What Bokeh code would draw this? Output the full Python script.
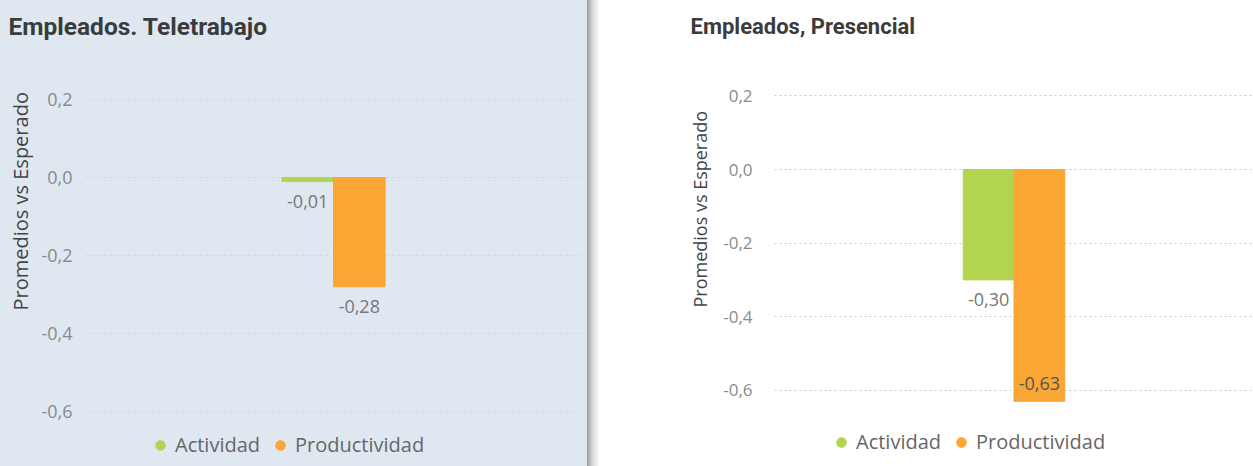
from bokeh.plotting import figure
from bokeh.models import (FactorRange, Range1d, FixedTicker, CustomJSTickFormatter,
                          Title, ColumnDataSource, Spacer)
from bokeh.transform import dodge
from bokeh.layouts import row
from bokeh.core.properties import value
from bokeh.embed import file_html
from bokeh.resources import INLINE

# ---------------- data ----------------
series = ["Actividad", "Productividad"]
grupo = ["Empleados"]
teletrabajo_values = [-0.01, -0.28]
presencial_values = [-0.30, -0.63]
y_ticks = [0.2, 0.0, -0.2, -0.4, -0.6]
titles = ["Empleados. Teletrabajo", "Empleados, Presencial"]
axis_title = "Promedios vs Esperado"
colors = ["#B3D44E", "#F9A635"]

H = 466


def fmt(v):
    return f"{v:.2f}".replace(".", ",")


def panel(values, title, cfg):
    zero_px, ppu, top_px = cfg["zero_px"], cfg["ppu"], cfg["top_px"]
    y_top = (zero_px - top_px) / ppu
    y_bot = -(H - zero_px) / ppu
    p = figure(width=cfg["width"], height=H,
               x_range=FactorRange(factors=grupo, range_padding=0),
               y_range=Range1d(y_bot, y_top),
               x_axis_location=None, toolbar_location=None, output_backend="svg",
               min_border_left=cfg["left"], min_border_right=cfg["right"],
               min_border_top=top_px, min_border_bottom=0,
               background_fill_color=cfg["bg"], border_fill_color=cfg["bg"],
               outline_line_color=None)
    p.styles = {"background-color": cfg["bg"]}
    ax = p.yaxis[0]
    ax.ticker = FixedTicker(ticks=y_ticks)
    ax.formatter = CustomJSTickFormatter(code="return tick.toFixed(1).replace('.', ',');")
    ax.axis_line_color = None
    ax.major_tick_line_color = None
    ax.minor_tick_line_color = None
    ax.major_tick_in = 0
    ax.major_tick_out = 0
    ax.axis_label_standoff = 0
    ax.major_label_standoff = cfg["standoff"]
    ax.major_label_text_font = "Open Sans"
    ax.major_label_text_font_size = cfg["tick_fs"]
    ax.major_label_text_color = "#8a8a8a"
    p.xgrid.visible = False
    p.ygrid.grid_line_color = cfg["grid_color"]
    p.ygrid.grid_line_dash = cfg["grid_dash"]
    p.ygrid.grid_line_width = 1

    low_tick = min(y_ticks)
    for i, s in enumerate(series):
        v = values[i]
        inside = v < low_tick
        src = ColumnDataSource(dict(g=grupo, v=[v], lab=[fmt(v)],
                                    yo=[-18 if inside else 20],
                                    tc=["#555555" if inside else "#777777"]))
        xd = dodge("g", cfg["offsets"][i], range=p.x_range)
        p.vbar(x=xd, top="v", bottom=0, width=cfg["bw"], color=colors[i], source=src)
        p.text(x=xd, y="v", text="lab", y_offset="yo", text_align="center",
               text_baseline="middle", text_font=value("Open Sans"),
               text_font_size="18px", text_color="tc", source=src)
        p.scatter(x=xd, y="v", size=10, color=colors[i], legend_label=s,
                  source=src, visible=False)

    lg = p.legend[0]
    lg.location = cfg["legend_xy"]
    lg.orientation = "horizontal"
    lg.background_fill_alpha = 0
    lg.border_line_color = None
    lg.padding = 0
    lg.margin = 0
    lg.spacing = 8
    lg.glyph_width = 24
    lg.glyph_height = 24
    lg.label_standoff = 3
    lg.label_text_font = "Open Sans"
    lg.label_text_font_size = "20px"
    lg.label_text_color = "#666666"

    p.add_layout(Title(text=title, align="left", offset=cfg["title_offset"],
                       vertical_align="middle", standoff=cfg["title_standoff"],
                       text_font="Roboto", text_font_style="bold",
                       text_font_size=cfg["title_fs"], text_color="#3b3b3b"), "above")
    p.add_layout(Title(text=axis_title, align="left", offset=cfg["axis_offset"],
                       vertical_align="middle", standoff=cfg["axis_standoff"],
                       text_font="Open Sans", text_font_style="normal",
                       text_font_size=cfg["axis_fs"], text_color="#444444"), "left")
    return p


left_cfg = dict(width=587, left=85, right=6, zero_px=177, ppu=390, top_px=50,
                bg="#dfe8f1", grid_color="#d0d9e3", grid_dash="3 3",
                offsets=[-0.052, 0.052], bw=0.104, standoff=13, tick_fs="18px",
                axis_fs="20px", title_fs="24.5px", title_offset=-77, title_standoff=18,
                axis_offset=156, axis_standoff=7,
                legend_xy=(63, 8))
right_cfg = dict(width=581, left=102, right=0, zero_px=169, ppu=368, top_px=50,
                 bg="#ffffff", grid_color="#c8c8c8", grid_dash="2 3",
                 offsets=[-0.053, 0.053], bw=0.106, standoff=22, tick_fs="17px",
                 axis_fs="18px", title_fs="22px", title_offset=-84, title_standoff=22,
                 axis_offset=159, axis_standoff=15,
                 legend_xy=(55, 11))

p1 = panel(teletrabajo_values, titles[0], left_cfg)
p2 = panel(presencial_values, titles[1], right_cfg)

shadow = Spacer(width=13, height=H,
                styles={"background": "linear-gradient(to right, #9c9c9c, #d6d6d6 40%, #ffffff)"})
gap = Spacer(width=72, height=H)

layout = row(p1, shadow, gap, p2)
open("out.html", "w").write(file_html(layout, INLINE))
